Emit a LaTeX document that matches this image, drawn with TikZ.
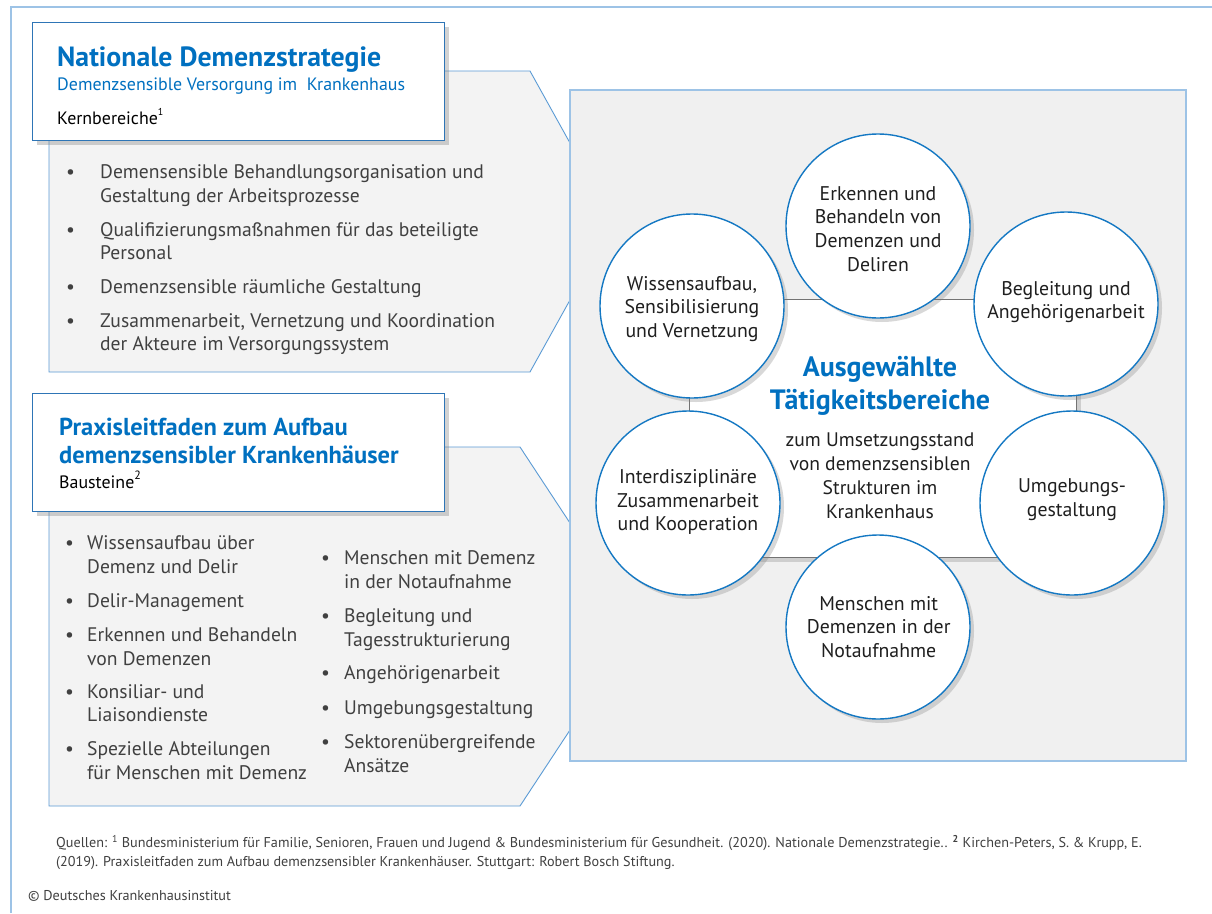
\documentclass[tikz,border=0pt]{standalone}
\usepackage{fontspec}
\setmainfont{PT Sans}
\usetikzlibrary{shadows}
\definecolor{frameblue}{RGB}{157,195,230}
\definecolor{boxblue}{RGB}{46,117,182}
\definecolor{panelblue}{RGB}{91,155,213}
\definecolor{circblue}{RGB}{20,120,195}
\definecolor{titleblue}{RGB}{0,112,192}
\definecolor{panelgray}{RGB}{243,243,243}
\definecolor{rightgray}{RGB}{240,240,240}
\definecolor{txt}{RGB}{64,64,64}
\tikzset{
  panel/.style={fill=panelgray, draw=panelblue, line width=0.9pt},
  whitebox/.style={fill=white, draw=boxblue, line width=1.4pt, drop shadow={shadow xshift=4pt, shadow yshift=-4pt, opacity=0.35}},
  circ/.style={circle, minimum size=184pt, inner sep=0pt, fill=white, draw=circblue, line width=1.4pt, drop shadow={shadow xshift=4pt, shadow yshift=-4pt, opacity=0.3}},
  ctext/.style={align=center, inner sep=0pt, font=\fontsize{19.8}{23.7}\selectfont, text=black!88},
  item/.style={anchor=base west, inner sep=0pt, font=\fontsize{19.6}{23}\selectfont, text=txt},
  title/.style={anchor=base west, inner sep=0pt, font=\bfseries\fontsize{27.8}{30}\selectfont, text=titleblue},
  foot/.style={anchor=base west, inner sep=0pt, font=\fontsize{14.2}{16}\selectfont, text=txt}
}
\begin{document}
\begin{tikzpicture}[x=1pt,y=-1pt]
\useasboundingbox (0,0) rectangle (1212,913);
\fill[white] (0,0) rectangle (1212,913);
% outer frame
\draw[frameblue, line width=1.8pt] (11,913) -- (11,7) -- (1212,7);

% gray panels
\draw[panel] (49,71) -- (530,71) -- (570,143) -- (570,300) -- (530,372) -- (49,372) -- cycle;
\draw[panel] (49,447) -- (520,447) -- (570,523) -- (570,730) -- (520,806) -- (49,806) -- cycle;

% white header boxes
\node[whitebox, minimum width=412pt, minimum height=118pt, anchor=north west, inner sep=0pt] (box1) at (32,22) {};
\node[whitebox, minimum width=412pt, minimum height=118pt, anchor=north west, inner sep=0pt] (box2) at (32,393) {};

\node[title] (t1) at (57,66) {Nationale Demenzstrategie};
\node[anchor=base west, inner sep=0pt, font=\fontsize{17.9}{20}\selectfont, text=titleblue] (t1b) at (57,90) {Demenzsensible Versorgung im\ \ Krankenhaus};
\node[anchor=base west, inner sep=0pt, font=\fontsize{17.9}{20}\selectfont] (t1c) at (57,124) {Kernbereiche\raisebox{0.5em}{\fontsize{10}{10}\selectfont 1}};

\node[title, font=\bfseries\fontsize{24.5}{28}\selectfont] (t2) at (59,435) {Praxisleitfaden zum Aufbau};
\node[title, font=\bfseries\fontsize{24.5}{28}\selectfont] (t2b) at (59,463) {demenzsensibler Krankenhäuser};
\node[anchor=base west, inner sep=0pt, font=\fontsize{17.9}{20}\selectfont] (t2c) at (59,488) {Bausteine\raisebox{0.45em}{\fontsize{12}{12}\selectfont 2}};

% panel 1 items
\foreach \yy in {178,236,293,327} \node[item] (b1\yy) at (66,\yy) {•};
\node[item] (a1) at (100,178) {Demensensible Behandlungsorganisation und};
\node[item] (a2) at (100,202) {Gestaltung der Arbeitsprozesse};
\node[item] (a3) at (100,236) {Qualifizierungsmaßnahmen für das beteiligte};
\node[item] (a4) at (100,259) {Personal};
\node[item] (a5) at (100,293) {Demenzsensible räumliche Gestaltung};
\node[item] (a6) at (100,327) {Zusammenarbeit, Vernetzung und Koordination};
\node[item] (a7) at (100,350) {der Akteure im Versorgungssystem};

% panel 2 column 1
\foreach \yy in {549,607,641,698,755} \node[item] (b2\yy) at (65,\yy) {•};
\node[item] (c1) at (87,549) {Wissensaufbau über};
\node[item] (c2) at (87,573) {Demenz und Delir};
\node[item] (c3) at (87,607) {Delir-Management};
\node[item] (c4) at (87,641) {Erkennen und Behandeln};
\node[item] (c5) at (87,665) {von Demenzen};
\node[item] (c6) at (87,698) {Konsiliar- und};
\node[item] (c7) at (87,721) {Liaisondienste};
\node[item] (c8) at (87,755) {Spezielle Abteilungen};
\node[item] (c9) at (87,779) {für Menschen mit Demenz};
% panel 2 column 2
\foreach \yy in {564,622,679,714,748} \node[item] (b3\yy) at (321,\yy) {•};
\node[item] (d1) at (344,564) {Menschen mit Demenz};
\node[item] (d2) at (344,588) {in der Notaufnahme};
\node[item] (d3) at (344,622) {Begleitung und};
\node[item] (d4) at (344,646) {Tagesstrukturierung};
\node[item] (d5) at (344,679) {Angehörigenarbeit};
\node[item] (d6) at (344,714) {Umgebungsgestaltung};
\node[item] (d7) at (344,748) {Sektorenübergreifende};
\node[item] (d8) at (344,772) {Ansätze};

% right panel
\draw[fill=rightgray, draw=frameblue, line width=1.6pt] (570,90) rectangle (1186,761);

% central rectangle
\node[fill=white, draw=black!55, line width=1.2pt, minimum width=387pt, minimum height=258pt, inner sep=0pt, anchor=north west, drop shadow={shadow xshift=4pt, shadow yshift=-4pt, opacity=0.3}] (center) at (689,299) {};

\node[align=center, inner sep=0pt, font=\bfseries\fontsize{28}{32.6}\selectfont, text=titleblue] (head) at (880,386) {Ausgewählte\\Tätigkeitsbereiche};
\node[ctext, font=\fontsize{19.6}{24}\selectfont] (sub) at (880,476) {zum Umsetzungsstand\\von demenzsensiblen\\Strukturen im\\Krankenhaus};

% circles
\node[circ] (k1) at (878,226) {};
\node[circ] (k2) at (1066,304) {};
\node[circ] (k3) at (1072,503) {};
\node[circ] (k4) at (878,627) {};
\node[circ] (k5) at (688,503) {};
\node[circ] (k6) at (692,306) {};

\node[ctext] (k1t) at (878,229) {Erkennen und\\Behandeln von\\Demenzen und\\Deliren};
\node[ctext] (k2t) at (1066,302) {Begleitung und\\Angehörigenarbeit};
\node[ctext] (k3t) at (1072,499.5) {Umgebungs-\\gestaltung};
\node[ctext] (k4t) at (878.7,627) {Menschen mit\\Demenzen in der\\Notaufnahme};
\node[ctext] (k5t) at (688,502) {Interdisziplinäre\\Zusammenarbeit\\und Kooperation};
\node[ctext] (k6t) at (692,309) {Wissensaufbau,\\Sensibilisierung\\und Vernetzung};

% footer
\node[foot] (f1) at (56,847.5) {Quellen: \textsuperscript{1} Bundesministerium für Familie, Senioren, Frauen und Jugend \& Bundesministerium für Gesundheit. (2020). Nationale Demenzstrategie.. \textsuperscript{\textbf{2}} Kirchen-Peters, S. \& Krupp, E.};
\node[foot] (f2) at (56,866.5) {(2019). Praxisleitfaden zum Aufbau demenzsensibler Krankenhäuser. Stuttgart: Robert Bosch Stiftung.};
\node[foot] (f3) at (28,900) {© Deutsches Krankenhausinstitut};
\end{tikzpicture}
\end{document}
